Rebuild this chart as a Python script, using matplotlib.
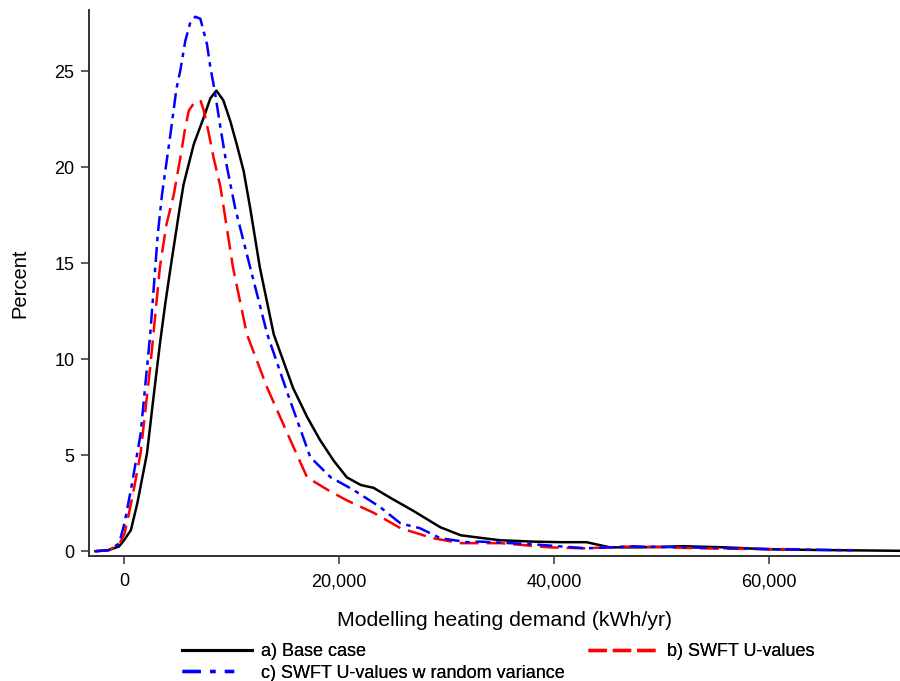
import matplotlib
matplotlib.use("Agg")
import matplotlib.pyplot as plt
from matplotlib.lines import Line2D

plt.rcParams['font.family'] = ['Liberation Sans', 'DejaVu Sans']

# Heating demand (thousand kWh/yr) and percent
base_x = [-2.7, -1.5, -0.5, 0, 0.6, 1.2, 2.1, 2.7, 3.3, 3.8, 4.3, 5.15, 5.5, 6.45, 7.38, 8.0, 8.56,
          9.2, 9.86, 10.5, 11.1, 11.7, 12.6, 13.9, 15.7, 17.0, 18.2, 19.5, 20.7, 22.0, 23.2, 24.7,
          26.9, 29.4, 31.3, 33.1, 35, 38, 40.6, 43, 45.2, 48, 52, 56, 59.8, 65, 72.5]
base_y = [0, 0.05, 0.25, 0.6, 1.1, 2.5, 5.1, 8.0, 10.8, 12.9, 14.8, 17.9, 19.1, 21.2, 22.6, 23.6, 24.0,
          23.5, 22.4, 21.1, 19.8, 17.9, 14.8, 11.3, 8.5, 7.0, 5.8, 4.7, 3.85, 3.45, 3.3, 2.8,
          2.1, 1.25, 0.83, 0.7, 0.57, 0.5, 0.47, 0.47, 0.2, 0.2, 0.26, 0.2, 0.1, 0.06, 0.02]

swft_x = [-2.7, -1.5, -0.5, 0, 0.28, 0.8, 1.5, 2.4, 3.3, 3.9, 4.6, 5.2, 5.67, 6.0, 6.6, 7.1, 7.38,
          7.84, 8.3, 8.93, 9.24, 10.1, 11.4, 13.3, 15.2, 17.0, 18.9, 20.7, 23.2, 25.7, 28.7,
          31.3, 35, 39.6, 42.7, 47.3, 53.6, 58, 63.5]
swft_y = [0, 0.05, 0.35, 0.9, 1.6, 3.0, 5.1, 9.6, 14.8, 17.0, 18.6, 20.5, 22.1, 22.97, 23.45, 23.45, 22.97,
          21.8, 20.5, 19.0, 17.9, 14.8, 11.3, 8.5, 6.1, 3.85, 3.2, 2.65, 2.0, 1.2, 0.68,
          0.42, 0.42, 0.2, 0.15, 0.25, 0.15, 0.12, 0.1]

rand_x = [-2.7, -1.5, -0.5, 0, 0.7, 1.5, 2.4, 3.1, 3.5, 4.3, 4.84, 5.2, 5.67, 6.14, 6.6, 7.07,
          7.69, 8.0, 8.4, 8.93, 9.55, 10.3, 11.7, 13.3, 15.2, 17.3, 19.2, 21.3, 23.8, 25.7,
          27.5, 29.4, 31.9, 33.1, 38, 43, 47.3, 56.7, 61, 67.8]
rand_y = [0, 0.05, 0.4, 1.45, 3.5, 6.1, 11.3, 16.5, 18.6, 21.8, 24.1, 25.05, 26.6, 27.57, 27.85, 27.74,
          26.4, 25.2, 24.0, 22.1, 20.0, 17.9, 14.8, 11.3, 8.2, 4.9, 3.85, 3.2, 2.3, 1.45,
          1.2, 0.68, 0.47, 0.5, 0.36, 0.15, 0.25, 0.15, 0.1, 0.05]

labels = ["a) Base case", "b) SWFT U-values", "c) SWFT U-values w random variance"]
x_ticks = [0, 20000, 40000, 60000]
x_tick_labels = ["0", "20,000", "40,000", "60,000"]
y_ticks = [0, 5, 10, 15, 20, 25]

fig = plt.figure(figsize=(9, 6.81), dpi=100)
ax = fig.add_axes([89/900, 1-556/681, 1-89/900, (556-10)/681])

lw = 1.8
ax.plot([v*1000 for v in base_x], base_y, color='black', lw=lw, solid_joinstyle='round')
ax.plot([v*1000 for v in swft_x], swft_y, color='#ff0000', lw=lw, linestyle=(0, (7.5, 3.2)))
ax.plot([v*1000 for v in rand_x], rand_y, color='#0000ff', lw=lw, linestyle=(0, (6, 2.3, 1.8, 2.3)))

ax.set_xlim(-3300, 72200)
ax.set_ylim(-0.25, 28.2)
ax.set_xticks(x_ticks)
ax.set_xticklabels(x_tick_labels)
ax.set_yticks(y_ticks)
for s in ['top', 'right']:
    ax.spines[s].set_visible(False)
for s in ['left', 'bottom']:
    ax.spines[s].set_linewidth(1.4)
    ax.spines[s].set_color('#333333')
ax.tick_params(axis='both', labelsize=13, length=5.5, width=1.1, color='#333333', direction='out')
ax.tick_params(axis='x', pad=7)
ax.tick_params(axis='y', pad=5)

ax.set_xlabel("Modelling heating demand (kWh/yr)", fontsize=15.3, labelpad=15)
ax.xaxis.set_label_coords((505-89)/811, -(620-556)/546, transform=ax.transAxes)
ax.xaxis.label.set_va('center')
ax.set_ylabel("Percent", fontsize=14.5)
ax.yaxis.set_label_coords(-(89-20)/811, 0.5, transform=ax.transAxes)
ax.yaxis.label.set_va('center')

# legend placed as in the reference: a and b on one row, c below a
handles = [
    Line2D([], [], color='black', lw=2.2),
    Line2D([], [], color='#ff0000', lw=2.4, linestyle=(0, (5.5, 1.8))),
    Line2D([], [], color='#0000ff', lw=2.4, linestyle=(0, (5.5, 2.8, 1.6, 2.8, 2.8, 10))),
]
positions = [(182/900, 1-652/681), (588/900, 1-652/681), (182/900, 1-673/681)]
for h, lab, pos in zip(handles, labels, positions):
    lg = fig.legend([h], [lab], loc='center left', bbox_to_anchor=pos, frameon=False,
                    fontsize=13, handlelength=3.9, handletextpad=0.45, borderpad=0,
                    borderaxespad=0)
    fig.add_artist(lg)

fig.savefig("out.png", dpi=100)
